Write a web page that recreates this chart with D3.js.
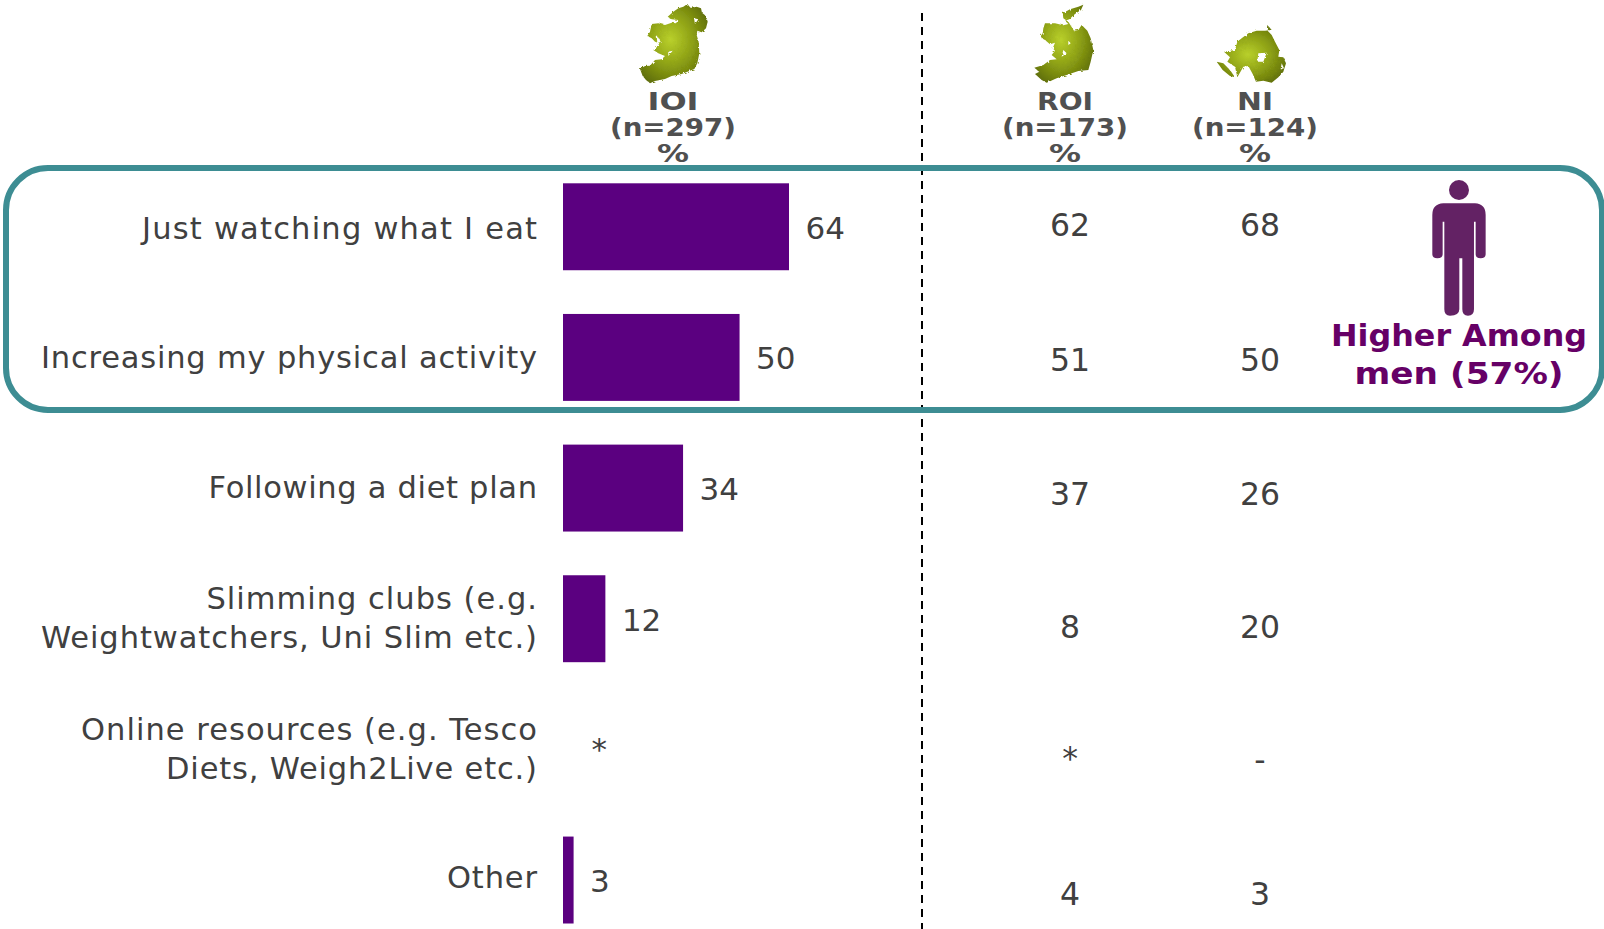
<!DOCTYPE html>
<html><head><meta charset="utf-8">
<script src="https://cdn.jsdelivr.net/npm/d3@7"></script>
<style>html,body{margin:0;padding:0;background:#fff;overflow:hidden}svg{display:block;font-family:Verdana,"DejaVu Sans",sans-serif}</style>
</head><body><svg id="c" width="1604" height="929"></svg>
<script>
const categories=[["Just watching what I eat"],["Increasing my physical activity"],["Following a diet plan"],["Slimming clubs (e.g.","Weightwatchers, Uni Slim etc.)"],["Online resources (e.g. Tesco","Diets, Weigh2Live etc.)"],["Other"]];
const ioiValues=[64,50,34,12,null,3];
const ioiLabels=["64","50","34","12","*","3"];
const roiLabels=["62","51","37","8","*","4"];
const niLabels=["68","50","26","20","-","3"];
const headers=[["IOI","(n=297)","%"],["ROI","(n=173)","%"],["NI","(n=124)","%"]];
const calloutLines=["Higher Among","men (57%)"];

const svg=d3.select("#c");
const defs=svg.append("defs");
const grad=(id,cx,cy)=>{const g=defs.append("radialGradient").attr("id",id).attr("cx",cx).attr("cy",cy).attr("r",.62);
 g.append("stop").attr("offset","0%").attr("stop-color","#b9d02b");
 g.append("stop").attr("offset","55%").attr("stop-color","#8b9e14");
 g.append("stop").attr("offset","100%").attr("stop-color","#5f6e08");};
grad("gI",.45,.45);grad("gN",.45,.5);
const f=defs.append("filter").attr("id","rough").attr("x","-5%").attr("y","-5%").attr("width","110%").attr("height","110%");
f.append("feTurbulence").attr("type","fractalNoise").attr("baseFrequency",.12).attr("numOctaves",2).attr("seed",3).attr("result","n");
f.append("feDisplacementMap").attr("in","SourceGraphic").attr("in2","n").attr("scale",9);

const x=d3.scaleLinear().domain([0,64]).range([563,789]);
const y=d3.scaleBand().domain(d3.range(6)).range([183.3,923.5]).paddingInner(.3346).paddingOuter(0);
const textCol="#404040";

// dashed divider
svg.append("line").attr("x1",922).attr("x2",922).attr("y1",13).attr("y2",929)
 .attr("stroke","#000").attr("stroke-width",2).attr("stroke-dasharray","8 6");

// highlight box
svg.append("rect").attr("x",6).attr("y",168).attr("width",1596).attr("height",242).attr("rx",42)
 .attr("fill","none").attr("stroke","#3d8d93").attr("stroke-width",6);

// Map icons
const line=d3.line().curve(d3.curveLinearClosed);
const map=(ox,shapes,fill,holes=[])=>{const g=svg.append("g").attr("transform",`translate(${ox},0) scale(${1/3})`);
 const d=shapes.map(s=>line(s)).join("")+holes.map(h=>line(h)).join("");
 g.append("path").attr("d",d).attr("fill",fill).attr("fill-rule","evenodd").attr("filter","url(#rough)");};
map(600,[[[262,12],[272,24],[290,20],[303,25],[306,38],[318,48],[323,65],[318,85],[305,97],[292,92],[290,105],[296,125],[298,160],[292,190],[283,207],[270,212],[245,222],[215,228],[195,237],[165,243],[150,250],[138,240],[128,228],[120,207],[135,198],[150,197],[165,180],[185,178],[195,168],[175,160],[160,150],[172,140],[178,130],[165,125],[155,115],[142,108],[150,95],[155,72],[175,70],[195,75],[215,68],[228,70],[235,60],[215,58],[203,50],[220,35],[235,25],[250,20]]],"url(#gI)",
 [[[170,105],[182,125],[172,130]],[[282,55],[295,58],[285,72]],[[205,155],[218,152],[205,168]]]);
map(1000,[[[250,14],[243,30],[225,42],[208,58],[195,62],[205,72],[190,76],[165,70],[135,70],[130,85],[128,100],[120,112],[135,120],[150,133],[165,128],[158,145],[165,152],[155,165],[170,178],[150,180],[130,195],[103,203],[118,215],[105,222],[125,240],[140,248],[170,235],[200,225],[235,213],[265,210],[272,185],[280,150],[272,115],[262,92],[245,75],[235,90],[222,92],[205,65],[190,55],[188,40],[210,28],[235,20]]],"url(#gI)",
 [[[190,150],[200,160],[185,170]],[[205,122],[212,130],[205,135]]]);
map(1000,[[[805,78],[815,90],[795,92],[770,92],[745,100],[725,115],[712,125],[705,150],[672,155],[690,172],[682,185],[705,200],[712,232],[730,200],[745,198],[758,222],[768,245],[790,242],[815,248],[835,232],[850,215],[858,190],[850,172],[835,170],[838,150],[825,125],[815,105],[803,92]],
 [[650,185],[670,190],[690,210],[705,232],[690,228],[668,210]]],"url(#gN)",
 [[[775,160],[800,158],[790,185],[772,185]],[[845,190],[852,205],[842,208]]]);

// headers
const hx=[673,1065,1255], hy=[110,136,162];
const headWidths=[[51,126,32],[56,126,32],[36,126,32]];
headers.forEach((h,i)=>h.forEach((t,j)=>svg.append("text").attr("x",hx[i]).attr("y",hy[j]).attr("text-anchor","middle")
 .attr("font-size",24).attr("font-weight","bold").attr("fill","#505050")
 .attr("textLength",headWidths[i][j]).attr("lengthAdjust","spacingAndGlyphs").text(t)));

// category labels
const lineGap=39, labelNudge=[1,0,-1,-1,-1,-3];
const labelWidths=[[395],[496],[328.5],[330.5,496],[456,371],[90]];
categories.forEach((c,i)=>{const mid=y(i)+y.bandwidth()/2+labelNudge[i];
 c.forEach((s,j)=>svg.append("text").attr("text-anchor","end").attr("font-size",30.5).attr("fill",textCol)
  .attr("x",537).attr("y",mid+11-(c.length-1)*lineGap/2+j*lineGap)
  .attr("textLength",labelWidths[i][j]).attr("lengthAdjust","spacing").text(s));});

// bars
svg.selectAll("rect.bar").data(ioiValues.map((v,i)=>({v,i})).filter(d=>d.v!=null)).join("rect").attr("class","bar")
 .attr("x",x(0)).attr("y",d=>y(d.i)).attr("width",d=>x(d.v)-x(0)).attr("height",y.bandwidth()).attr("fill","#5b0080");
const ioiFallback=3;
svg.selectAll("text.v").data(ioiLabels).join("text").attr("class","v")
 .attr("x",(d,i)=>x(ioiValues[i]??ioiFallback)+(d==="*"?18:16.5)).attr("y",(d,i)=>y(i)+y.bandwidth()/2+12-(d==="*"?1:0))
 .attr("font-size",31).attr("fill",textCol).text(d=>d);

// right-hand columns
const yOffs=[225,359.5,493.5,626.5,758,894];
const col=(labels,cx)=>labels.forEach((t,i)=>svg.append("text").attr("x",cx).attr("y",yOffs[i]+(t==="-"?2:0)+11).attr("text-anchor","middle")
 .attr("font-size",31.5).attr("fill",textCol).text(t));
col(roiLabels,1070);col(niLabels,1260);

// person icon
const p=svg.append("g").attr("transform","translate(1300,150) scale(.3333)").attr("fill","#632264");
p.append("circle").attr("cx",477).attr("cy",120).attr("r",30);
p.append("path").attr("d","M430 160H525Q557 162 557 195V312Q557 325 542 325Q527 325 527 312V215H522V478Q522 497 504 497Q487 497 487 478V325H478V478Q478 497 450 497Q433 497 433 478V215H428V312Q428 325 412 325Q397 325 397 312V195Q397 162 430 160Z");

// callout
const calloutWidths=[256,209];
calloutLines.forEach((t,i)=>svg.append("text").attr("x",1459).attr("y",346+i*38).attr("text-anchor","middle")
 .attr("font-size",30).attr("font-weight","bold").attr("fill","#660066")
 .attr("textLength",calloutWidths[i]).attr("lengthAdjust","spacingAndGlyphs").text(t));
</script></body></html>
